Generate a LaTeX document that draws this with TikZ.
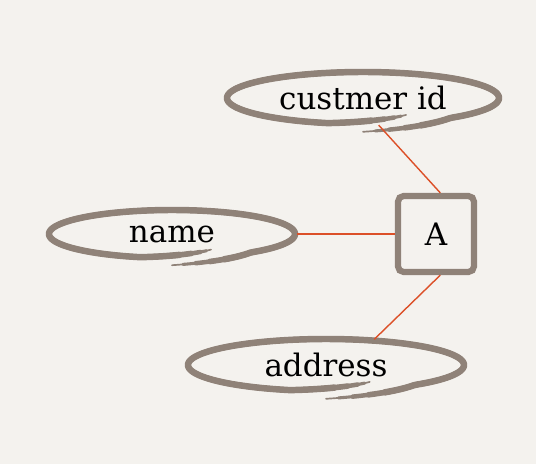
\documentclass[tikz,border=0pt]{standalone}
\usepackage{fontspec}
\setmainfont{DejaVu Serif}
\usetikzlibrary{shapes.geometric}
\definecolor{paper}{HTML}{F4F2EE}
\definecolor{pencil}{HTML}{8F8278}
\definecolor{link}{HTML}{DC5028}
\tikzset{
  attribute/.style={shape=ellipse, draw=none, inner sep=0pt, text=black, font=\fontsize{22}{26}\selectfont},
  entity/.style={shape=rectangle, rounded corners=4pt, draw=pencil, line width=4.4pt, minimum size=1.9cm, text=black, font=\fontsize{22}{26}\selectfont},
  ring/.style={draw=pencil, line cap=round, line join=round},
  relation/.style={draw=link, line width=1pt},
  declare function={sk(\t)=1+0.3*max(0,(-50-\t))/40-0.27*max(0,(\t-255))/40;}
}
% hand drawn outline round an attribute node: name, rx, ry (px)
\newcommand{\sketchring}[3]{%
  \foreach \w/\a/\b in {1.2/-90/296, 2.2/-86/292, 3.2/-81/287, 4.0/-75/281, 4.6/-68/274}
    \draw[ring, line width=\w pt, shift={(#1.center)}]
      plot[domain=\a:\b, samples=160, smooth]
      ({#2*cos(\x)*sk(\x)}, {-#3*sin(\x)*sk(\x)});
}

\begin{document}
\begin{tikzpicture}[x=0.025cm, y=-0.025cm]
  \fill[paper] (0,0) rectangle (536,464);
  \useasboundingbox (0,0) rectangle (536,464);
  % nodes
  \node [attribute, minimum width=6.9cm, minimum height=1.35cm] (custid) at (363,98) {custmer id};
  \node [attribute, minimum width=6.25cm, minimum height=1.3cm] (name) at (172,234) {name};
  \node [attribute, minimum width=7cm, minimum height=1.35cm] (address) at (326,365) {address};
  \node [entity] (A) at (436,234) {A};
  % outlines
  \sketchring{custid}{136}{26}
  \sketchring{name}{123}{24}
  \sketchring{address}{138}{26}
  % relations
  \draw [relation] (custid.-60) -- (A.84);
  \draw [relation] (name.east) -- (A.west);
  \draw [relation] (address.28) -- (A.-84);
\end{tikzpicture}
\end{document}
